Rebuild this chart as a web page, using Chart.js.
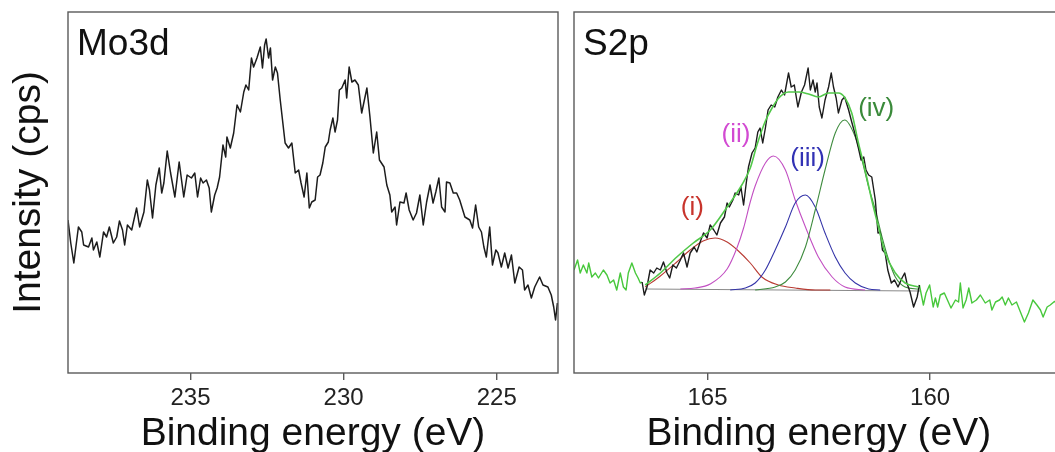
<!DOCTYPE html>
<html>
<head>
<meta charset="utf-8">
<script src="https://cdn.jsdelivr.net/npm/chart.js@4.4.1/dist/chart.umd.min.js"></script>
<style>
  html, body { margin: 0; padding: 0; background: #fff; overflow: hidden; width: 1055px; height: 452px; }
  canvas { position: absolute; top: 0; }
  #mo { left: 0; }
  #s2p { left: 560px; }
</style>
</head>
<body>
<canvas id="mo" width="566" height="452"></canvas>
<canvas id="s2p" width="516" height="452"></canvas>
<script>
// Mo3d spectrum (binding energy in eV, intensity in arbitrary cps units)
const moEnergy = [239.00,238.91,238.81,238.66,238.55,238.49,238.33,238.22,238.17,238.06,
  237.96,237.84,237.74,237.65,237.52,237.41,237.32,237.22,237.15,237.06,
  236.92,236.87,236.76,236.66,236.52,236.41,236.34,236.24,236.13,236.02,
  235.94,235.87,235.76,235.65,235.51,235.37,235.22,235.11,234.97,234.86,
  234.77,234.67,234.59,234.48,234.39,234.32,234.21,234.13,234.05,233.94,
  233.85,233.81,233.70,233.59,233.48,233.37,233.26,233.19,233.10,233.01,
  232.94,232.83,232.72,232.65,232.58,232.53,232.45,232.39,232.32,232.23,
  232.16,232.07,231.91,231.80,231.69,231.58,231.47,231.39,231.29,231.20,
  231.12,231.04,230.93,230.85,230.77,230.68,230.60,230.50,230.44,230.35,
  230.28,230.20,230.14,230.06,229.95,229.90,229.82,229.73,229.63,229.52,
  229.41,229.24,229.14,229.03,228.92,228.83,228.68,228.59,228.49,228.43,
  228.32,228.27,228.16,228.03,227.96,227.86,227.73,227.62,227.51,227.40,
  227.29,227.18,227.08,226.99,226.89,226.80,226.69,226.64,226.53,226.42,
  226.31,226.21,226.04,225.88,225.79,225.69,225.59,225.50,225.42,225.34,
  225.23,225.14,225.03,224.96,224.85,224.74,224.63,224.52,224.41,224.27,
  224.16,224.09,223.98,223.87,223.76,223.60,223.49,223.33,223.22,223.14,
  223.08,223.02];
const moCounts = [153,130,110,146,141,128,126,135,123,131,
  116,141,136,146,130,136,152,143,128,148,
  143,150,165,146,161,193,183,155,188,205,
  180,190,222,200,176,211,176,198,195,200,
  176,195,190,193,185,161,178,185,196,228,
  216,236,225,240,268,261,281,288,283,315,
  306,315,326,305,328,334,315,325,293,306,
  300,273,230,225,230,200,203,190,176,200,
  165,171,173,196,198,210,226,231,243,255,
  241,253,283,285,293,275,306,291,293,288,
  260,285,256,220,241,213,206,188,178,161,
  166,148,171,170,180,163,153,160,178,148,
  171,188,170,181,195,166,161,191,190,180,
  180,173,156,153,145,168,146,141,126,116,
  146,108,123,120,106,120,105,118,90,106,
  103,83,88,75,86,96,88,86,78,66,
  53,70];
const moTicks = [235, 230, 225];

// S2p spectrum: raw data outside the fit window (green), inside it (black)
const sLowE = [168.00,167.92,167.86,167.79,167.71,167.67,167.60,167.52,167.45,167.34,
  167.26,167.19,167.11,167.04,166.96,166.89,166.83,166.78,166.70,166.62,166.56,166.51,166.47];
const sLowV = [103,113,100,108,100,110,96,100,95,103,98,90,93,83,100,86,83,100,110,100,95,90,91];
const sDataE = [166.47,166.42,166.36,166.29,166.21,166.14,166.06,165.99,165.91,165.85,
  165.78,165.70,165.61,165.54,165.46,165.39,165.30,165.24,165.15,165.09,
  165.01,164.94,164.86,164.79,164.71,164.62,164.56,164.51,164.43,164.38,
  164.30,164.25,164.19,164.13,164.08,164.00,163.93,163.87,163.82,163.76,
  163.70,163.64,163.57,163.49,163.42,163.34,163.27,163.18,163.12,163.05,
  162.97,162.89,162.82,162.74,162.69,162.63,162.58,162.54,162.49,162.43,
  162.36,162.28,162.22,162.17,162.11,162.06,161.98,161.92,161.83,161.76,
  161.68,161.61,161.55,161.49,161.44,161.38,161.31,161.23,161.17,161.12,
  161.07,161.01,160.95,160.87,160.80,160.72,160.63,160.57,160.52,160.45,
  160.37,160.29,160.24];
const sDataV = [91,78,86,103,100,105,103,111,100,95,
  108,105,113,120,106,120,126,121,133,140,
  135,148,143,138,150,156,170,166,173,180,
  178,186,168,190,206,220,225,241,245,230,
  245,263,268,266,276,283,278,300,286,288,
  266,281,288,305,283,293,281,290,266,255,
  273,286,300,286,275,260,273,276,263,251,
  238,225,213,216,203,198,196,173,140,141,
  123,120,103,90,93,86,95,100,90,81,
  66,76,88];
const sHighE = [160.24,160.15,160.09,160.01,159.93,159.88,159.83,159.77,159.68,159.61,
  159.53,159.43,159.36,159.32,159.26,159.19,159.13,159.06,158.96,158.87,
  158.76,158.66,158.61,158.53,158.44,158.38,158.31,158.24,158.16,158.06,
  157.97,157.88,157.79,157.69,157.60,157.52,157.46,157.37,157.30,157.22,157.12];
const sHighV = [88,68,80,88,66,75,66,78,80,73,
  65,73,71,90,65,73,85,70,73,78,
  70,73,63,71,73,76,68,75,68,71,
  61,51,60,73,68,63,56,66,68,71,73];

// fit envelope, background and the four components
const fitE = [166.40,166.06,165.69,165.32,164.94,164.56,164.23,164.04,163.89,163.70,
  163.55,163.40,163.18,162.95,162.73,162.51,162.28,162.06,161.91,161.76,
  161.61,161.46,161.31,161.16,161.01,160.78,160.56,160.26];
const fitV = [88,100,116,130,143,166,188,205,228,252,
  265,275,281,281,279,276,280,280,275,260,
  230,203,173,146,120,100,90,86];
const baseE = [166.40, 160.22];
const baseV = [84, 82];
const compIE = [166.40,166.06,165.69,165.39,165.10,164.83,164.56,164.33,164.04,163.78,163.41,163.03,162.58,162.24];
const compIV = [86,97,111,123,132,135,131,123,110,96,88,85,83,83];
const compIIE = [165.61,165.28,164.94,164.56,164.34,164.19,164.04,163.93,163.70,163.52,163.25,163.03,162.80,162.51,162.20,161.91,161.46];
const compIIV = [84,85,89,104,125,145,171,187,210,217,203,173,146,116,96,86,83];
const compIIIE = [164.49,164.15,163.93,163.70,163.48,163.25,163.03,162.80,162.58,162.36,162.13,161.91,161.68,161.38,161.12];
const compIIIV = [83,85,90,103,123,146,170,178,166,140,116,100,90,84,83];
const compIVE = [163.93,163.48,163.25,163.03,162.80,162.58,162.36,162.13,161.92,161.68,161.53,161.38,161.23,161.08,160.93,160.78,160.56,160.27];
const compIVV = [83,86,91,103,126,163,203,240,253,236,213,186,163,136,113,96,86,84];
const sTicks = [165, 160];

const compLabels = ['(i)', '(ii)', '(iii)', '(iv)'];
const compLabelE = [165.34, 164.36, 162.75, 161.21];
const compLabelV = [165, 238, 214, 264];

const FONT = '"Liberation Sans", Arial, sans-serif';
Chart.defaults.font.family = FONT;
const compColors = ['#b83a32', '#c24fc2', '#3434a8', '#3f8c3f'];
const labelColors = ['#c8342c', '#d24ad2', '#3232b4', '#3a8a3a'];

function pts(xs, ys) {
  return xs.map((x, i) => ({ x: x, y: ys[i] }));
}

const framePlugin = {
  id: 'frame',
  afterDraw(chart) {
    const { ctx, chartArea: a } = chart;
    ctx.save();
    ctx.strokeStyle = '#5a5a5a';
    ctx.lineWidth = 1.4;
    ctx.strokeRect(a.left, a.top, a.right - a.left, a.bottom - a.top);
    ctx.restore();
  }
};

function panelTitle(text) {
  return {
    id: 'panelTitle',
    afterDraw(chart) {
      const { ctx, chartArea: a } = chart;
      ctx.save();
      ctx.font = '37px ' + FONT;
      ctx.fillStyle = '#111';
      ctx.textBaseline = 'alphabetic';
      ctx.fillText(text, a.left + 9, a.top + 43);
      ctx.restore();
    }
  };
}

const compLabelPlugin = {
  id: 'compLabels',
  afterDatasetsDraw(chart) {
    const { ctx, scales } = chart;
    ctx.save();
    ctx.font = '26px ' + FONT;
    ctx.textAlign = 'center';
    ctx.textBaseline = 'middle';
    compLabels.forEach((t, i) => {
      ctx.fillStyle = labelColors[i];
      ctx.fillText(t, scales.x.getPixelForValue(compLabelE[i]), scales.y.getPixelForValue(compLabelV[i]));
    });
    ctx.restore();
  }
};

function xAxis(min, max, ticks) {
  return {
    type: 'linear',
    reverse: true,
    min: min,
    max: max,
    afterBuildTicks: (axis) => { axis.ticks = ticks.map(v => ({ value: v })); },
    afterFit: (axis) => { axis.height = 79; },
    border: { display: false },
    grid: { drawOnChartArea: false, drawTicks: true, tickLength: 7, color: '#5a5a5a', lineWidth: 1.4 },
    ticks: {
      autoSkip: false, maxRotation: 0, padding: 6,
      color: '#222', font: { size: 24, lineHeight: 1 },
      callback: (v) => String(v)
    },
    title: {
      display: true, text: 'Binding energy (eV)', color: '#111',
      font: { size: 39, lineHeight: 1 }, padding: { top: 5, bottom: -2 }
    }
  };
}

const lineBase = { pointRadius: 0, borderJoinStyle: 'round', fill: false };

new Chart(document.getElementById('mo'), {
  type: 'line',
  data: {
    datasets: [
      Object.assign({ data: pts(moEnergy, moCounts), borderColor: '#1c1c1c', borderWidth: 1.5, tension: 0 }, lineBase)
    ]
  },
  options: {
    responsive: false,
    animation: false,
    events: [],
    layout: { padding: { left: 0, top: 12, right: 8, bottom: 0 } },
    plugins: { legend: { display: false }, tooltip: { enabled: false } },
    scales: {
      x: xAxis(223, 239, moTicks),
      y: {
        min: 0, max: 361,
        afterFit: (axis) => { axis.width = 68; },
        grid: { display: false },
        border: { display: false },
        ticks: { display: false },
        title: {
          display: true, text: 'Intensity (cps)', color: '#111',
          font: { size: 39, lineHeight: 1 }, padding: { top: 10, bottom: 19 }
        }
      }
    }
  },
  plugins: [framePlugin, panelTitle('Mo3d')]
});

new Chart(document.getElementById('s2p'), {
  type: 'line',
  data: {
    datasets: [
      Object.assign({ data: pts(fitE, fitV), borderColor: '#52c84a', borderWidth: 1.6, cubicInterpolationMode: 'monotone', order: 0 }, lineBase),
      Object.assign({ data: pts(sDataE, sDataV), borderColor: '#1c1c1c', borderWidth: 1.4, tension: 0, order: 1 }, lineBase),
      Object.assign({ data: pts(sLowE, sLowV), borderColor: '#48c83c', borderWidth: 1.4, tension: 0, order: 2 }, lineBase),
      Object.assign({ data: pts(sHighE, sHighV), borderColor: '#48c83c', borderWidth: 1.4, tension: 0, order: 2 }, lineBase),
      Object.assign({ data: pts(compIVE, compIVV), borderColor: compColors[3], borderWidth: 1.1, cubicInterpolationMode: 'monotone', order: 3 }, lineBase),
      Object.assign({ data: pts(compIIIE, compIIIV), borderColor: compColors[2], borderWidth: 1.1, cubicInterpolationMode: 'monotone', order: 4 }, lineBase),
      Object.assign({ data: pts(compIIE, compIIV), borderColor: compColors[1], borderWidth: 1.1, cubicInterpolationMode: 'monotone', order: 5 }, lineBase),
      Object.assign({ data: pts(compIE, compIV), borderColor: compColors[0], borderWidth: 1.1, cubicInterpolationMode: 'monotone', order: 6 }, lineBase),
      Object.assign({ data: pts(baseE, baseV), borderColor: '#8a8a8a', borderWidth: 1.2, tension: 0, order: 7 }, lineBase)
    ]
  },
  options: {
    responsive: false,
    animation: false,
    events: [],
    layout: { padding: { left: 14, top: 12, right: 12.4, bottom: 0 } },
    plugins: { legend: { display: false }, tooltip: { enabled: false } },
    scales: {
      x: xAxis(157, 168, sTicks),
      y: { min: 0, max: 361, display: false }
    }
  },
  plugins: [framePlugin, panelTitle('S2p'), compLabelPlugin]
});
</script>
</body>
</html>
